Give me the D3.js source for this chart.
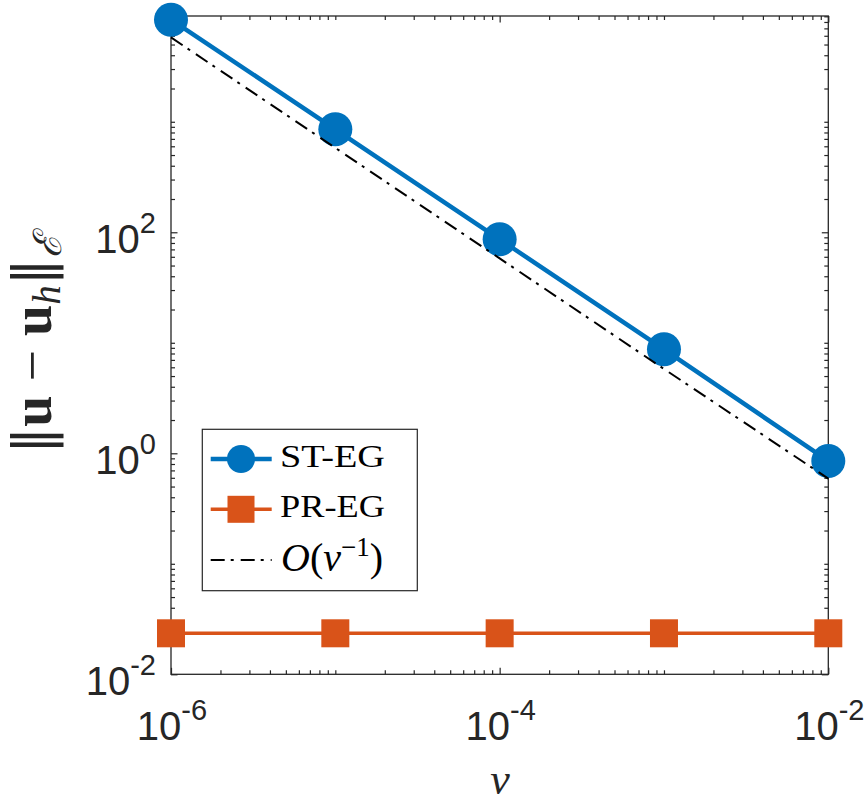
<!DOCTYPE html>
<html>
<head>
<meta charset="utf-8">
<script src="https://cdn.jsdelivr.net/npm/d3@7/dist/d3.min.js"></script>
<style>
  html, body { margin: 0; padding: 0; background: #fff; }
  svg { display: block; }
</style>
</head>
<body>
<svg id="chart" width="867" height="805"></svg>
<script>
// ---- data ----
const nu = [1e-6, 1e-5, 1e-4, 1e-3, 1e-2];
const stEG = [8390, 855, 86.4, 8.73, 0.852];
const prEG = [0.0235, 0.0235, 0.0235, 0.0235, 0.0235];
const refLine = [5800, 580, 58, 5.8, 0.59];
const xTicks = [1e-6, 1e-4, 1e-2];
const xTickExp = ["-6", "-4", "-2"];
const yTicks = [1e-2, 1, 1e2];
const yTickExp = ["-2", "0", "2"];
const seriesNames = ["ST-EG", "PR-EG"];

// ---- layout ----
const L = 171, R = 828.3, T = 16, B = 674.3;
const axisColor = "#262626";
const blue = "#0072BD", orange = "#D95319";

const svg = d3.select("#chart");
const x = d3.scaleLog().domain([1e-6, 1e-2]).range([L, R]);
const y = d3.scaleLog().domain([1e-2, 9060]).range([B, T]);

function minorTicks(domain, majors) {
  const out = [];
  const lo = Math.floor(Math.log10(domain[0])), hi = Math.ceil(Math.log10(domain[1]));
  for (let k = lo; k <= hi; k++) {
    for (let m = 1; m <= 9; m++) {
      const v = m * Math.pow(10, k);
      if (v < domain[0] * 0.9999 || v > domain[1] * 1.0001) continue;
      if (majors.some(t => Math.abs(t - v) / v < 1e-9)) continue;
      out.push(v);
    }
  }
  return out;
}
const xMinor = minorTicks(x.domain(), xTicks);
const yMinor = minorTicks(y.domain(), yTicks);

// box
svg.append("rect").attr("x", L).attr("y", T).attr("width", R - L).attr("height", B - T)
  .attr("fill", "none").attr("stroke", axisColor).attr("stroke-width", 1.3);

function styleAxis(g) {
  g.select(".domain").remove();
  g.selectAll("line").attr("stroke", axisColor).attr("stroke-width", 1.2);
  g.selectAll("text").remove();
}
const MAJ = 6.5, MIN = 4;
svg.append("g").attr("transform", `translate(0,${B})`)
  .call(d3.axisBottom(x).tickValues(xTicks).tickSize(-MAJ).tickFormat("")).call(styleAxis);
svg.append("g").attr("transform", `translate(0,${B})`)
  .call(d3.axisBottom(x).tickValues(xMinor).tickSize(-MIN).tickFormat("")).call(styleAxis);
svg.append("g").attr("transform", `translate(0,${T})`)
  .call(d3.axisTop(x).tickValues(xTicks).tickSize(-MAJ).tickFormat("")).call(styleAxis);
svg.append("g").attr("transform", `translate(0,${T})`)
  .call(d3.axisTop(x).tickValues(xMinor).tickSize(-MIN).tickFormat("")).call(styleAxis);
svg.append("g").attr("transform", `translate(${L},0)`)
  .call(d3.axisLeft(y).tickValues(yTicks).tickSize(-MAJ).tickFormat("")).call(styleAxis);
svg.append("g").attr("transform", `translate(${L},0)`)
  .call(d3.axisLeft(y).tickValues(yMinor).tickSize(-MIN).tickFormat("")).call(styleAxis);
svg.append("g").attr("transform", `translate(${R},0)`)
  .call(d3.axisRight(y).tickValues(yTicks).tickSize(-MAJ).tickFormat("")).call(styleAxis);
svg.append("g").attr("transform", `translate(${R},0)`)
  .call(d3.axisRight(y).tickValues(yMinor).tickSize(-MIN).tickFormat("")).call(styleAxis);

// tick labels
const tickFont = "'Liberation Sans', Arial, Helvetica, sans-serif";
function powLabel(sel, exp) {
  sel.append("tspan").attr("font-size", 40).text("10");
  sel.append("tspan").attr("font-size", 29).attr("dy", -20).text(exp);
}
xTicks.forEach((t, i) => {
  const tx = svg.append("text").attr("x", x(t) + 1).attr("y", 739.5)
    .attr("text-anchor", "middle").attr("fill", axisColor).attr("font-family", tickFont);
  powLabel(tx, xTickExp[i]);
});
yTicks.forEach((t, i) => {
  const tx = svg.append("text").attr("x", L - 15).attr("y", y(t) + 21)
    .attr("text-anchor", "end").attr("fill", axisColor).attr("font-family", tickFont);
  powLabel(tx, yTickExp[i]);
});

// axis labels
const serif = "'Liberation Serif', 'DejaVu Serif', serif";
svg.append("text").attr("x", 500).attr("y", 794).attr("text-anchor", "middle")
  .attr("font-family", serif).attr("font-style", "italic").attr("font-size", 44).attr("fill", axisColor)
  .text("ν");

const yl = svg.append("text").attr("transform", "translate(51,344) rotate(-90)")
  .attr("text-anchor", "middle").attr("font-family", serif).attr("font-size", 56).attr("fill", axisColor);
yl.append("tspan").attr("font-family", "'DejaVu Sans', sans-serif").attr("font-size", 54).text("‖");
yl.append("tspan").attr("font-weight", "bold").text("u");
yl.append("tspan").text(" − ");
yl.append("tspan").attr("font-weight", "bold").text("u");
yl.append("tspan").attr("font-style", "italic").attr("font-size", 39).attr("dy", 9).text("h");
yl.append("tspan").attr("font-family", "'DejaVu Sans', sans-serif").attr("font-size", 54).attr("dy", -9).text("‖");
yl.append("tspan").attr("font-style", "italic").attr("font-size", 39).attr("dy", 10).text("ℰ");

// lines
const line = d3.line().x((d, i) => x(nu[i])).y(d => y(d));
svg.append("path").datum(stEG).attr("d", line).attr("fill", "none")
  .attr("stroke", blue).attr("stroke-width", 4.5);
svg.append("g").selectAll("circle").data(stEG).join("circle")
  .attr("cx", (d, i) => x(nu[i])).attr("cy", d => y(d)).attr("r", 17).attr("fill", blue);

svg.append("path").datum(prEG).attr("d", line).attr("fill", "none")
  .attr("stroke", orange).attr("stroke-width", 3.6);
svg.append("g").selectAll("rect").data(prEG).join("rect")
  .attr("x", (d, i) => x(nu[i]) - 14).attr("y", d => y(d) - 14)
  .attr("width", 28).attr("height", 28).attr("fill", orange);

svg.append("path").datum(refLine).attr("d", line).attr("fill", "none")
  .attr("stroke", "#000").attr("stroke-width", 2).attr("stroke-dasharray", "14,6,3,7");

// legend
const lg = svg.append("g");
lg.append("rect").attr("x", 202.3).attr("y", 429.3).attr("width", 215).attr("height", 161.4)
  .attr("fill", "#fff").attr("stroke", axisColor).attr("stroke-width", 1.2);
const ly = [459, 509.3, 560];
// ST-EG
lg.append("line").attr("x1", 210.7).attr("x2", 271.7).attr("y1", ly[0]).attr("y2", ly[0])
  .attr("stroke", blue).attr("stroke-width", 4.5);
lg.append("circle").attr("cx", 241).attr("cy", ly[0]).attr("r", 14).attr("fill", blue);
lg.append("text").attr("x", 280).attr("y", ly[0] + 8).attr("font-family", serif).attr("font-size", 31)
  .attr("textLength", 105).attr("lengthAdjust", "spacingAndGlyphs")
  .attr("fill", "#000").text(seriesNames[0]);
// PR-EG
lg.append("line").attr("x1", 210.7).attr("x2", 271.7).attr("y1", ly[1]).attr("y2", ly[1])
  .attr("stroke", orange).attr("stroke-width", 3.6);
lg.append("rect").attr("x", 241 - 13.5).attr("y", ly[1] - 13.5).attr("width", 27).attr("height", 27).attr("fill", orange);
lg.append("text").attr("x", 280).attr("y", ly[1] + 8).attr("font-family", serif).attr("font-size", 31)
  .attr("textLength", 105).attr("lengthAdjust", "spacingAndGlyphs")
  .attr("fill", "#000").text(seriesNames[1]);
// reference
lg.append("line").attr("x1", 210.7).attr("x2", 271.7).attr("y1", ly[2]).attr("y2", ly[2])
  .attr("stroke", "#000").attr("stroke-width", 2).attr("stroke-dasharray", "14,6,3,7");
const rt = lg.append("text").attr("x", 281).attr("y", ly[2] + 11).attr("font-family", serif)
  .attr("font-size", 40).attr("fill", "#000");
rt.append("tspan").attr("font-style", "italic").text("O");
rt.append("tspan").text("(");
rt.append("tspan").attr("font-style", "italic").text("ν");
rt.append("tspan").attr("font-size", 27).attr("dy", -15).text("−1");
rt.append("tspan").attr("dy", 15).text(")");
</script>
</body>
</html>
